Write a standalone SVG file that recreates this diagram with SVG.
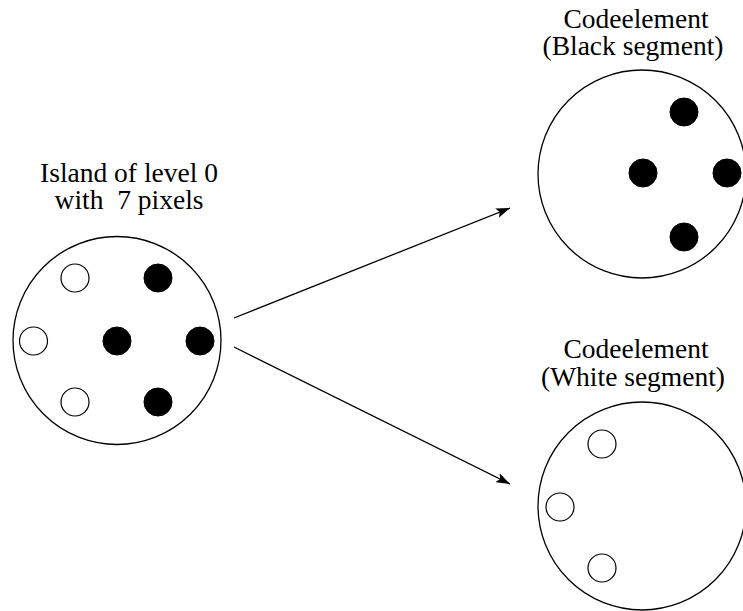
<svg xmlns="http://www.w3.org/2000/svg" width="743" height="611" viewBox="0 0 743 611">
<defs>
<style>
.big{fill:#fff;stroke:#000;stroke-width:1.3}
.open{fill:#fff;stroke:#000;stroke-width:1.2}
.full{fill:#000;stroke:#000;stroke-width:1}
.lbl{font-family:"Liberation Serif","Times New Roman",serif;font-size:27.5px;fill:#000;text-anchor:middle}
.conn{stroke:#000;stroke-width:1.3;fill:none}
</style>
<marker id="ah" viewBox="0 0 14 10" refX="14" refY="5" markerWidth="14" markerHeight="10" markerUnits="userSpaceOnUse" orient="auto">
<path d="M0,0 L14,5 L0,10 L3,5 Z" fill="#000"/>
</marker>
</defs>
<rect width="743" height="611" fill="#fff"/>
<g id="island">
<text class="lbl" x="129" y="182">Island of level 0</text>
<text class="lbl" x="129" y="209" xml:space="preserve">with  7 pixels</text>
<circle class="big" cx="117" cy="340.5" r="104"/>
<circle class="open" cx="75" cy="278" r="14"/>
<circle class="full" cx="158" cy="278" r="14"/>
<circle class="open" cx="33.5" cy="341" r="14"/>
<circle class="full" cx="117" cy="341" r="14"/>
<circle class="full" cx="200" cy="341" r="14"/>
<circle class="open" cx="75" cy="402" r="14"/>
<circle class="full" cx="158" cy="402" r="14"/>
</g>
<g id="black-segment">
<text class="lbl" x="636" y="28">Codeelement</text>
<text class="lbl" x="633" y="55">(Black segment)</text>
<circle class="big" cx="642" cy="174" r="104"/>
<circle class="full" cx="684" cy="112" r="14"/>
<circle class="full" cx="643" cy="173" r="14"/>
<circle class="full" cx="727" cy="173" r="14"/>
<circle class="full" cx="684" cy="237" r="14"/>
</g>
<g id="white-segment">
<text class="lbl" x="636" y="358">Codeelement</text>
<text class="lbl" x="633" y="386">(White segment)</text>
<circle class="big" cx="642" cy="506" r="104"/>
<circle class="open" cx="602" cy="444" r="14"/>
<circle class="open" cx="560" cy="507" r="14"/>
<circle class="open" cx="602" cy="568" r="14"/>
</g>
<g id="connectors">
<line class="conn" x1="234" y1="318" x2="510" y2="208" marker-end="url(#ah)"/>
<line class="conn" x1="234" y1="347" x2="510" y2="484" marker-end="url(#ah)"/>
</g>
</svg>
